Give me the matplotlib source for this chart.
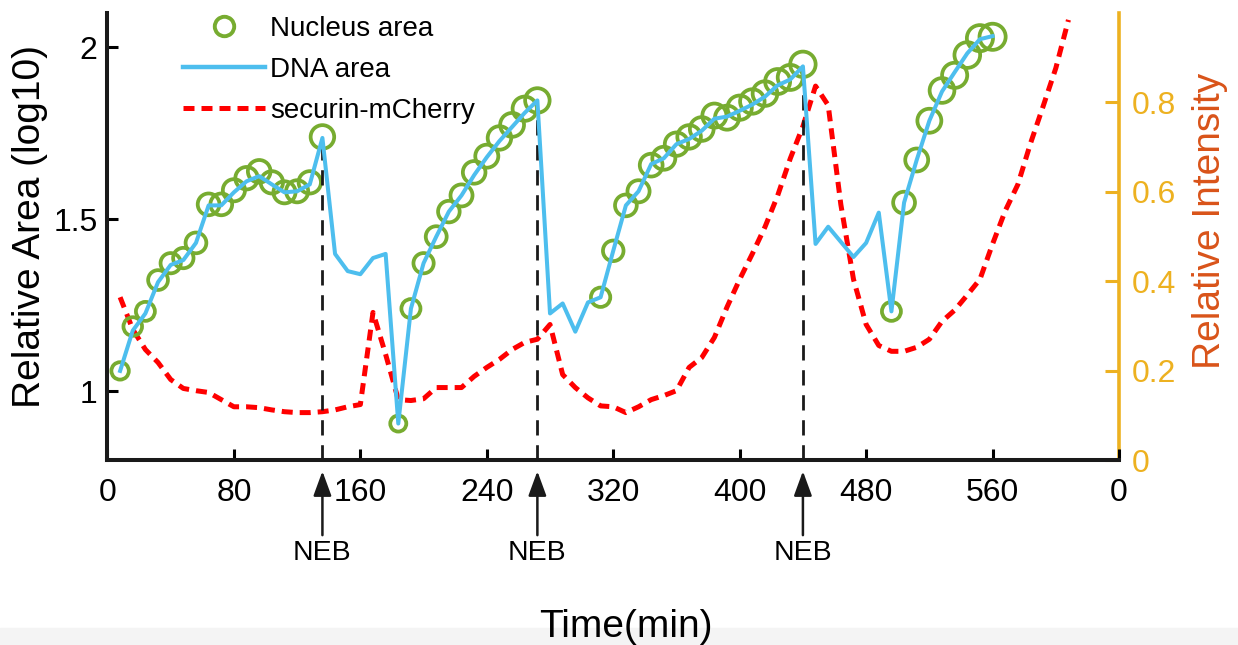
import numpy as np
import matplotlib.pyplot as plt
from matplotlib.lines import Line2D
from matplotlib.patches import Rectangle

plt.rcParams['font.family'] = ['Liberation Sans', 'DejaVu Sans']

green = '#77AC30'
blue = '#4DBEEE'
red = '#FF0000'
yellow = '#EDB120'
orange = '#D95319'

# nucleus area (log10), open circles
nuc_t = [8, 16, 24, 32, 40, 48, 56, 64, 72, 80, 88, 96, 104, 112, 120, 128, 136,
         184, 192, 200, 208, 216, 224, 232, 240, 248, 256, 264, 272,
         312, 320, 328, 336, 344, 352, 360, 368, 376, 384, 392, 400, 408, 416, 424, 432, 440,
         496, 504, 512, 520, 528, 536, 544, 552, 560]
nuc_v = [1.059, 1.188, 1.232, 1.323, 1.372, 1.387, 1.431, 1.543, 1.543, 1.584, 1.619, 1.639,
         1.607, 1.578, 1.581, 1.607, 1.739,
         0.906, 1.240, 1.372, 1.449, 1.522, 1.569, 1.636, 1.683, 1.736, 1.774, 1.821, 1.845,
         1.273, 1.408, 1.540, 1.581, 1.657, 1.677, 1.718, 1.739, 1.762, 1.801, 1.795, 1.824,
         1.842, 1.865, 1.900, 1.912, 1.950,
         1.232, 1.548, 1.672, 1.786, 1.874, 1.918, 1.977, 2.026, 2.030]

# DNA area (log10)
dna_t = [8, 16, 24, 32, 40, 48, 56, 64, 72, 80, 88, 96, 104, 112, 120, 128, 136, 144, 152,
         160, 168, 176, 184, 192, 200, 208, 216, 224, 232, 240, 248, 256, 264, 272, 280, 288,
         296, 304, 312, 320, 328, 336, 344, 352, 360, 368, 376, 384, 392, 400, 408, 416, 424,
         432, 440, 448, 456, 464, 472, 480, 488, 496, 504, 512, 520, 528, 536, 544, 552, 560]
dna_v = [1.059, 1.176, 1.226, 1.317, 1.367, 1.381, 1.431, 1.540, 1.540, 1.578, 1.610, 1.625,
         1.601, 1.578, 1.581, 1.601, 1.736, 1.399, 1.349, 1.340, 1.387, 1.399, 0.906, 1.240,
         1.372, 1.449, 1.522, 1.569, 1.628, 1.680, 1.727, 1.768, 1.809, 1.845, 1.226, 1.255,
         1.173, 1.258, 1.273, 1.408, 1.540, 1.581, 1.660, 1.677, 1.718, 1.733, 1.757, 1.792,
         1.798, 1.815, 1.833, 1.856, 1.889, 1.906, 1.944, 1.428, 1.478, 1.434, 1.390, 1.431,
         1.519, 1.232, 1.548, 1.672, 1.786, 1.871, 1.927, 1.982, 2.023, 2.032]

# securin-mCherry relative intensity (right axis)
sec_t = [8, 16, 24, 32, 40, 48, 56, 64, 72, 80, 88, 96, 104, 112, 120, 128, 136, 144, 152,
         160, 168, 176, 184, 192, 200, 208, 216, 224, 232, 240, 248, 256, 264, 272, 280, 288,
         296, 304, 312, 320, 328, 336, 344, 352, 360, 368, 376, 384, 392, 400, 408, 416, 424,
         432, 440, 448, 456, 464, 472, 480, 488, 496, 504, 512, 520, 528, 536, 544, 552, 560,
         568, 576, 584, 592, 600, 608]
sec_v = [0.364, 0.292, 0.247, 0.218, 0.180, 0.160, 0.155, 0.151, 0.135, 0.119, 0.119, 0.117,
         0.112, 0.108, 0.106, 0.106, 0.108, 0.112, 0.119, 0.124, 0.330, 0.236, 0.135, 0.133,
         0.137, 0.162, 0.162, 0.162, 0.187, 0.207, 0.225, 0.247, 0.263, 0.270, 0.303, 0.191,
         0.162, 0.139, 0.121, 0.119, 0.106, 0.119, 0.135, 0.144, 0.155, 0.207, 0.229, 0.274,
         0.342, 0.404, 0.461, 0.521, 0.591, 0.674, 0.746, 0.836, 0.793, 0.571, 0.404, 0.303,
         0.256, 0.243, 0.243, 0.252, 0.270, 0.310, 0.335, 0.369, 0.404, 0.483, 0.557, 0.616,
         0.708, 0.791, 0.876, 0.984]

neb_t = [136, 272, 440]
neb_top = [1.736, 1.845, 1.944]

xticks = [0, 80, 160, 240, 320, 400, 480, 560, 640]
xticklabels = ['0', '80', '160', '240', '320', '400', '480', '560', '0']

fig = plt.figure(figsize=(12.38, 6.45), dpi=100)
fig.patches.append(Rectangle((0, 0), 1, 17 / 645, transform=fig.transFigure,
                             color='#f4f4f4', zorder=0))
ax = fig.add_axes([0.0868, 0.2868, 0.8171, 0.6935])
ax2 = ax.twinx()
ax.set_zorder(ax2.get_zorder() + 1)
ax.patch.set_visible(False)

# red dashed on right axis
ax2.plot(sec_t, sec_v, color=red, lw=3.6, dashes=(2.2, 1.4))
ax2.set_ylim(0, 1.0)
ax2.set_yticks([0, 0.2, 0.4, 0.6, 0.8])
ax2.set_yticklabels(['0', '0.2', '0.4', '0.6', '0.8'])
ax2.tick_params(axis='y', colors=yellow, labelsize=23, direction='in', length=10,
                width=2.2, pad=9)
ax2.set_ylabel('Relative Intensity', fontsize=28, color=orange, va='center')
ax2.yaxis.set_label_coords(1.09, 0.534)
for s in ['top', 'left', 'bottom']:
    ax2.spines[s].set_visible(False)
ax2.spines['right'].set_color(yellow)
ax2.spines['right'].set_linewidth(2.6)

# nucleus circles, size grows with value
nuc_arr = np.array(nuc_v)
sizes = (2 * (8.0 + (nuc_arr - 0.9) * 4.5) * 0.72) ** 2
ax.scatter(nuc_t, nuc_v, s=sizes, facecolors='none', edgecolors=green,
           linewidths=2.7, zorder=2)
ax.plot(dna_t, dna_v, color=blue, lw=2.9, zorder=3)
ax.vlines(neb_t, 0.8, neb_top, colors='#1a1a1a', lw=2.0, linestyles=(0, (5.5, 3.5)), zorder=2.5)

ax.set_xlim(0, 640)
ax.set_ylim(0.8, 2.1)
ax.set_xticks(xticks)
ax.set_xticklabels(xticklabels)
ax.set_yticks([1, 1.5, 2])
ax.set_yticklabels(['1', '1.5', '2'])
ax.tick_params(axis='both', labelsize=23, direction='in', length=8, width=2.2)
ax.tick_params(axis='x', pad=13)
ax.tick_params(axis='y', pad=7)
for s in ['top', 'right']:
    ax.spines[s].set_visible(False)
for s in ['left', 'bottom']:
    ax.spines[s].set_linewidth(2.9)
    ax.spines[s].set_color('#1a1a1a')

ax.set_ylabel('Relative Area (log10)', fontsize=28, va='center')
ax.yaxis.set_label_coords(-0.0766, 0.523)

fig.text(626 / 1238, 1 - 637 / 645, 'Time(min)', fontsize=28, ha='center',
         va='baseline', zorder=5)

# NEB arrows below the axis
for t in neb_t:
    ax.annotate('', xy=(t, -0.025), xycoords=('data', 'axes fraction'),
                xytext=(t, -0.168), textcoords=('data', 'axes fraction'),
                arrowprops=dict(arrowstyle='-|>,head_length=0.6,head_width=0.22',
                                color='#1a1a1a', lw=1.8, mutation_scale=25,
                                shrinkA=0, shrinkB=0),
                annotation_clip=False)
    ax.text(t, -0.208, 'NEB', transform=ax.get_xaxis_transform(), fontsize=20.5,
            ha='center', va='center')

handles = [Line2D([], [], marker='o', ls='none', mfc='white', mec=green, mew=2.8, ms=14),
           Line2D([], [], color=blue, lw=3.2),
           Line2D([], [], color=red, lw=3.6, dashes=(2.2, 1.4))]
ax.legend(handles, ['Nucleus area', 'DNA area', 'securin-mCherry'], loc='upper left',
          bbox_to_anchor=(0.0746, 0.993), frameon=False, fontsize=20, borderpad=0,
          borderaxespad=0, handlelength=2.95, handletextpad=0.18, labelspacing=0.54)

fig.savefig('out.png', dpi=100)
